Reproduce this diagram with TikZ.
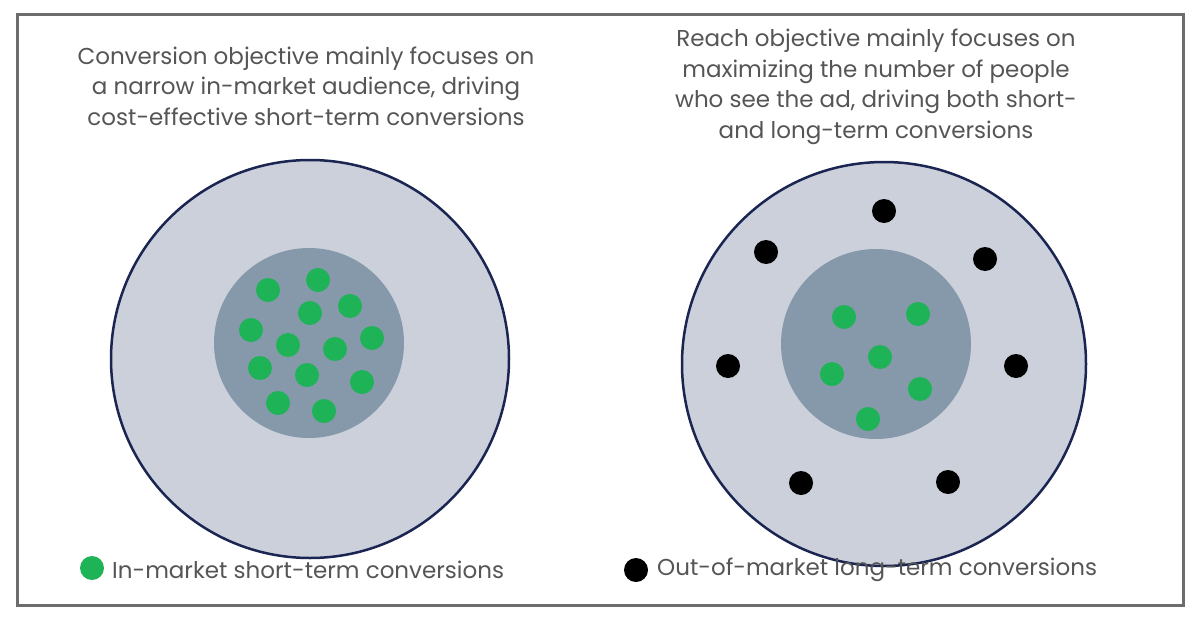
\documentclass[tikz,border=0pt]{standalone}
\usepackage{fontspec}
\setmainfont{Poppins}[Scale=1.0]
\definecolor{outerc}{HTML}{CBD0DB}
\definecolor{innerc}{HTML}{8699AB}
\definecolor{navy}{HTML}{1B2552}
\definecolor{greenc}{HTML}{1DB356}
\definecolor{textc}{HTML}{555555}
\begin{document}
\begin{tikzpicture}[x=1pt,y=-1pt,
  gdot/.style={circle,fill=greenc,minimum size=24pt,inner sep=0pt},
  bdot/.style={circle,fill=black,minimum size=24pt,inner sep=0pt},
  lbl/.style={text=textc,font=\fontsize{23}{30.5}\selectfont,align=center},
  leg/.style={text=textc,font=\fontsize{23}{24}\selectfont,anchor=west,inner sep=0pt}]
\useasboundingbox (0,0) rectangle (1200,632);
\draw[line width=3pt,draw=gray!85!black] (17,14) rectangle (1183,605);
\node[lbl] (t1) at (306,86) {Conversion objective mainly focuses on\\a narrow in-market audience, driving\\cost-effective short-term conversions};
\node[lbl] (t2) at (876,87) {Reach objective mainly focuses on\\maximizing the number of people\\who see the ad, driving both short-\\and long-term conversions};
\node[circle,fill=outerc,draw=navy,line width=2.5pt,minimum size=398pt,inner sep=0pt] (o1) at (310,359) {};
\node[circle,fill=innerc,minimum size=190pt,inner sep=0pt] (i1) at (309,343) {};
\node[circle,fill=outerc,draw=navy,line width=2.5pt,minimum size=404pt,inner sep=0pt] (o2) at (884,364) {};
\node[circle,fill=innerc,minimum size=190pt,inner sep=0pt] (i2) at (876,344) {};
\foreach \x/\y [count=\i] in {268/290,318/280,350/306,310/313,251/330,372/338,288/345,335/349,260/368,307/375,362/382,278/403,324/411}
  \node[gdot] (g\i) at (\x,\y) {};
\foreach \x/\y [count=\i] in {844/317,918/314,880/357,832/374,920/389,868/419}
  \node[gdot] (h\i) at (\x,\y) {};
\foreach \x/\y [count=\i] in {884/211,766/252,985/259,728/366,1016/366,801/483,948/482}
  \node[bdot] (b\i) at (\x,\y) {};
\node[gdot] (lg) at (92,568) {};
\node[leg] (lgt) at (112,570) {In-market short-term conversions};
\node[bdot] (lb) at (636,570) {};
\node[leg] (lbt) at (657,570) {Out-of-market long-term conversions};
\end{tikzpicture}
\end{document}
